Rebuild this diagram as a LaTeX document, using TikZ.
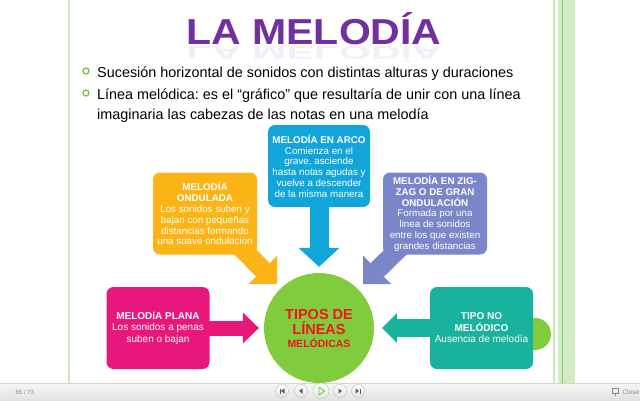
\documentclass[tikz,border=0pt]{standalone}
\usepackage{fontspec}
\setmainfont{Liberation Sans}
\frenchspacing
\definecolor{titlePurple}{HTML}{7030A0}
\definecolor{bulletGreen}{HTML}{7DC242}
\definecolor{borderGreen}{HTML}{C9E7B9}
\definecolor{bandGreen}{HTML}{D3ECC6}
\definecolor{lineGreen}{HTML}{86CF5A}
\definecolor{arcoBlue}{HTML}{12A5DA}
\definecolor{ondaOrange}{HTML}{FAB415}
\definecolor{zigPurple}{HTML}{7A86C8}
\definecolor{planaPink}{HTML}{E7177B}
\definecolor{noTeal}{HTML}{19B29C}
\definecolor{hubGreen}{HTML}{80CC3C}
\definecolor{hubRed}{HTML}{F0141E}
\definecolor{footTop}{HTML}{F6F6F6}
\definecolor{footBottom}{HTML}{E2E2E2}
\definecolor{footLine}{HTML}{D4D4D4}
\definecolor{btnRim}{HTML}{C4C4C4}
\definecolor{navIcon}{HTML}{5A5A5A}
\definecolor{playGreen}{HTML}{6CC24A}
\definecolor{textSecondary}{HTML}{8A8A8A}
\usetikzlibrary{calc, arrows.meta, backgrounds}

\tikzset{
  card/.style={fill=#1, rounded corners=7pt, text=white, align=center, inner sep=2pt,
               minimum width=103pt, minimum height=82pt, font=\fontsize{9.8}{10.8}\selectfont},
  blockarrow/.style n args={4}{draw=#1, line width=#2,
               -{Triangle[length=#3, width=#4, line width=0pt]}},
  navbtn/.style={circle, draw=btnRim, line width=0.5pt, inner sep=0pt, minimum size=13pt,
               top color=white, bottom color=footBottom},
  bullet/.style={circle, draw=bulletGreen, line width=1.3pt, inner sep=0pt, minimum size=6pt}
}

\begin{document}
\begin{tikzpicture}[x=1pt, y=-1pt]
  \useasboundingbox (0,0) rectangle (640,400);

  % slide frame
  \fill[borderGreen] (68,0) rectangle (70,383);
  \fill[borderGreen] (552.5,0) rectangle (555,383);
  \fill[bandGreen] (558,0) rectangle (575,383);
  \draw[lineGreen, line width=1pt] (562.5,0) -- (562.5,383);

  % title and bullets
  \node[font=\fontsize{41}{41}\selectfont\bfseries, text=titlePurple, anchor=base,
        yscale=0.88, transform shape] (title) at (314,44) {LA MELODÍA};
  \node[font=\fontsize{41}{41}\selectfont\bfseries, text=titlePurple, opacity=0.08, anchor=base,
        yscale=-0.45, transform shape] (titleMirror) at (314,46) {LA MELODÍA};

  \node[bullet] (dotA) at (86,71) {};
  \node[bullet] (dotB) at (86,93) {};
  \node[anchor=base west, inner sep=0pt, font=\fontsize{14.4}{20}\selectfont] (lineA) at (97,77)
    {Sucesión horizontal de sonidos con distintas alturas y duraciones};
  \node[anchor=base west, inner sep=0pt, align=left, font=\fontsize{14.4}{20}\selectfont] (lineB) at (97,119)
    {Línea melódica: es el “gráfico” que resultaría de unir con una línea\\imaginaria las cabezas de las notas en una melodía};

  % the five kinds of line
  \node[card=arcoBlue, minimum width=102pt] (arco) at (319,166)
    {\textbf{MELODÍA EN ARCO}\\Comienza en el\\grave, asciende\\hasta notas agudas y\\vuelve a descender\\de la misma manera};
  \node[card=ondaOrange, minimum width=104pt] (ondulada) at (205,213.5)
    {\textbf{MELODÍA}\\\textbf{ONDULADA}\\Los sonidos suben y\\bajan con pequeñas\\distancias formando\\una suave ondulacion};
  \node[card=zigPurple, minimum width=104pt] (zigzag) at (435,213.5)
    {\textbf{MELODÍA EN ZIG-}\\\textbf{ZAG O DE GRAN}\\\textbf{ONDULACIÓN}\\Formada por una\\linea de sonidos\\entre los que existen\\grandes distancias};
  \node[card=planaPink, font=\fontsize{10}{11.5}\selectfont] (plana) at (158,328)
    {\textbf{MELODíA PLANA}\\Los sonidos a penas\\suben o bajan};
  \node[circle, fill=hubGreen, minimum size=32pt] (knob) at (535,334) {};
  \node[card=noTeal, font=\fontsize{10}{11.5}\selectfont] (nomel) at (481.5,328)
    {\textbf{TIPO NO}\\\textbf{MELÓDICO}\\Ausencia de melodía};

  \node[circle, fill=hubGreen, minimum size=110pt, inner sep=0pt, align=center, text=hubRed,
        font=\fontsize{14.5}{15}\selectfont\bfseries] (tipos) at (319,328)
    {TIPOS DE\\LÍNEAS\\[-2pt]{\fontsize{10.5}{12}\selectfont MELÓDICAS}};

  \begin{scope}[on background layer]
    \fill[white] (0,0) rectangle (640,400);
    \draw[blockarrow={arcoBlue}{19pt}{19pt}{41pt}] ($(arco.south)+(0,-5)$) -- ($(tipos.north)+(0,-6)$);
    \draw[blockarrow={ondaOrange}{19pt}{20pt}{40pt}] ($(ondulada.south)+(33,-10)$) -- ($(tipos)+(-42,-44)$);
    \draw[blockarrow={zigPurple}{19pt}{20pt}{40pt}] ($(zigzag.south)+(-32,-10)$) -- ($(tipos)+(44,-44)$);
    \draw[blockarrow={planaPink}{15pt}{16pt}{31pt}] ($(plana.east)+(-5,0)$) -- ($(tipos.west)+(-5,0)$);
    \draw[blockarrow={noTeal}{18pt}{15pt}{30pt}] ($(nomel.west)+(5,0)$) -- ($(tipos.east)+(8,0)$);
  \end{scope}

  % player bar
  \shade[top color=footTop, bottom color=footBottom] (0,383) rectangle (640,400);
  \draw[footLine, line width=0.6pt] (0,383) -- (640,383);
  \node[anchor=west, text=textSecondary, font=\fontsize{6}{6}\selectfont] (counter) at (12,392) {65 / 73};
  \foreach \x/\nm in {282/first, 301/prev, 340/next, 358/last}
    \node[navbtn] (\nm) at (\x,391) {};
  \node[navbtn, minimum size=16pt] (play) at (321,391) {};
  \fill[navIcon] ($(first)+(-2.5,-2.5)$) rectangle ++(1,5);
  \fill[navIcon] ($(first)+(2.5,-2.5)$) -- ++(0,5) -- ++(-3.5,-2.5) -- cycle;
  \fill[navIcon] ($(prev)+(1.5,-2.5)$) -- ++(0,5) -- ++(-3.5,-2.5) -- cycle;
  \draw[playGreen, line width=0.8pt, line join=round] ($(play)+(-2,-4)$) -- ++(0,8) -- ++(5.5,-4) -- cycle;
  \fill[navIcon] ($(next)+(-1.5,-2.5)$) -- ++(0,5) -- ++(3.5,-2.5) -- cycle;
  \fill[navIcon] ($(last)+(-2.5,-2.5)$) -- ++(0,5) -- ++(3.5,-2.5) -- cycle;
  \fill[navIcon] ($(last)+(1.5,-2.5)$) rectangle ++(1,5);
  \node[anchor=west, text=textSecondary, font=\fontsize{6.5}{6.5}\selectfont] (close) at (619,392) {Close};
  \draw[textSecondary, line width=0.6pt] ($(close.west)+(-7,-3.5)$) rectangle ++(6,4.5);
  \draw[textSecondary, line width=0.6pt] ($(close.west)+(-4,1)$) -- ++(0,3);
\end{tikzpicture}
\end{document}
